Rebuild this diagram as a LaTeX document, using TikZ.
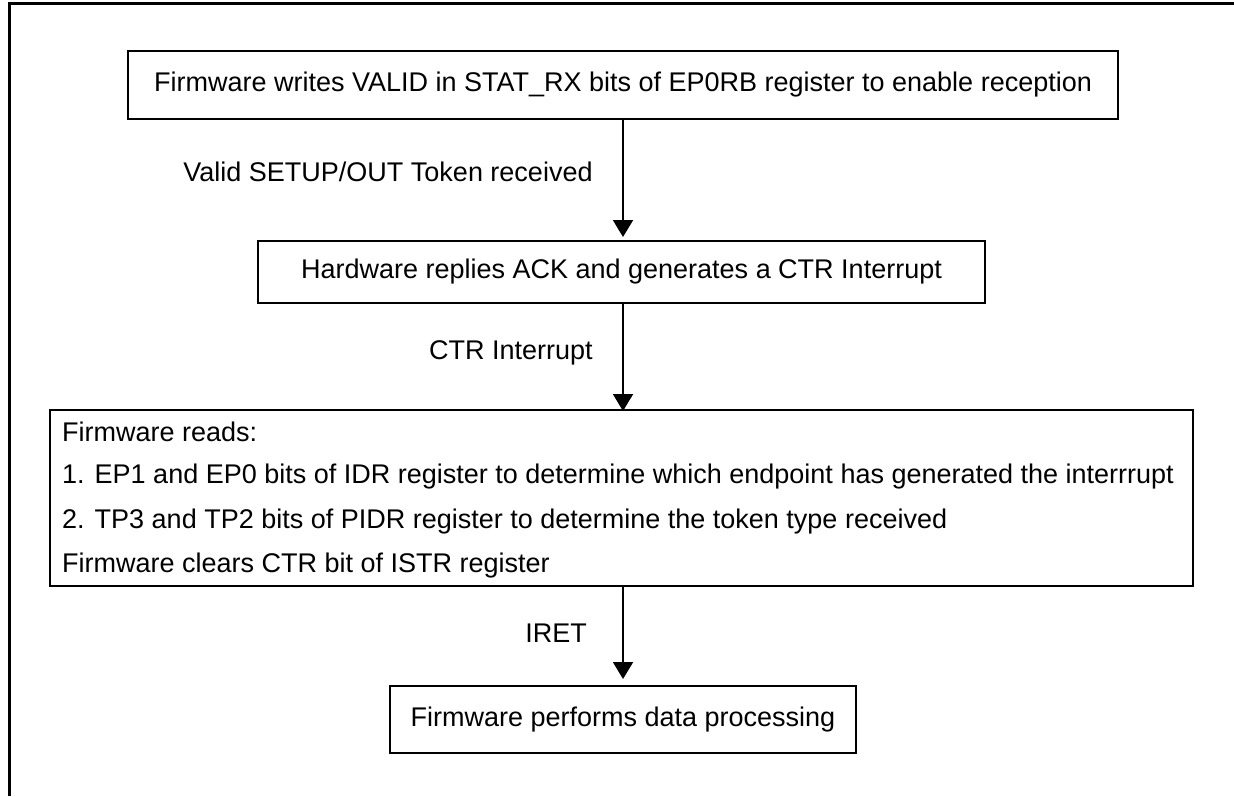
\documentclass[tikz,border=0pt]{standalone}
\usepackage{fontspec}
\setmainfont{Liberation Sans}
\usetikzlibrary{arrows.meta}
\tikzset{
  box/.style={draw, line width=2pt, inner sep=0pt, font=\fontsize{27}{32}\selectfont},
  lbl/.style={font=\fontsize{27}{32}\selectfont, inner sep=0pt},
  arr/.style={line width=2pt, -{Triangle[width=20pt,length=17pt]}},
  frame/.style={line width=3pt}
}
\begin{document}
\begin{tikzpicture}[x=1pt,y=-1pt]
\useasboundingbox (0,0) rectangle (1234,796);
\draw[frame] (1234,3) -- (9,3) -- (9,796);
\node[box, minimum width=990pt, minimum height=68pt] (b1) at (623,85) {Firmware writes VALID in STAT\_RX bits of EP0RB register to enable reception};
\node[box, minimum width=727pt, minimum height=62pt] (b2) at (621.5,272) {Hardware replies ACK and generates a CTR Interrupt};
\node[box, minimum width=1143pt, minimum height=176pt] (b3) at (621.5,498) {};
\node[box, minimum width=466pt, minimum height=67pt] (b4) at (623,719.5) {Firmware performs data processing};
\node[lbl, anchor=west] (t1) at (62,432) {Firmware reads:};
\node[lbl, anchor=west] (t2) at (62,477) {1. EP1 and EP0 bits of IDR register to determine which endpoint has generated the interrrupt};
\node[lbl, anchor=west] (t3) at (62,522) {2. TP3 and TP2 bits of PIDR register to determine the token type received};
\node[lbl, anchor=west] (t4) at (62,566) {Firmware clears CTR bit of ISTR register};
\coordinate (a1s) at (623,119);
\coordinate (a2s) at (623,303);
\coordinate (a3s) at (623,586);
\draw[arr] (a1s) -- ([yshift=3pt]a1s |- b2.north);
\draw[arr] (a2s) -- ([yshift=-2pt]a2s |- b3.north);
\draw[arr] (a3s) -- ([yshift=6pt]a3s |- b4.north);
\node[lbl] (l1) at (388,172) {Valid SETUP/OUT Token received};
\node[lbl] (l2) at (511,353) {CTR Interrupt};
\node[lbl] (l3) at (556,633) {IRET};
\end{tikzpicture}
\end{document}
